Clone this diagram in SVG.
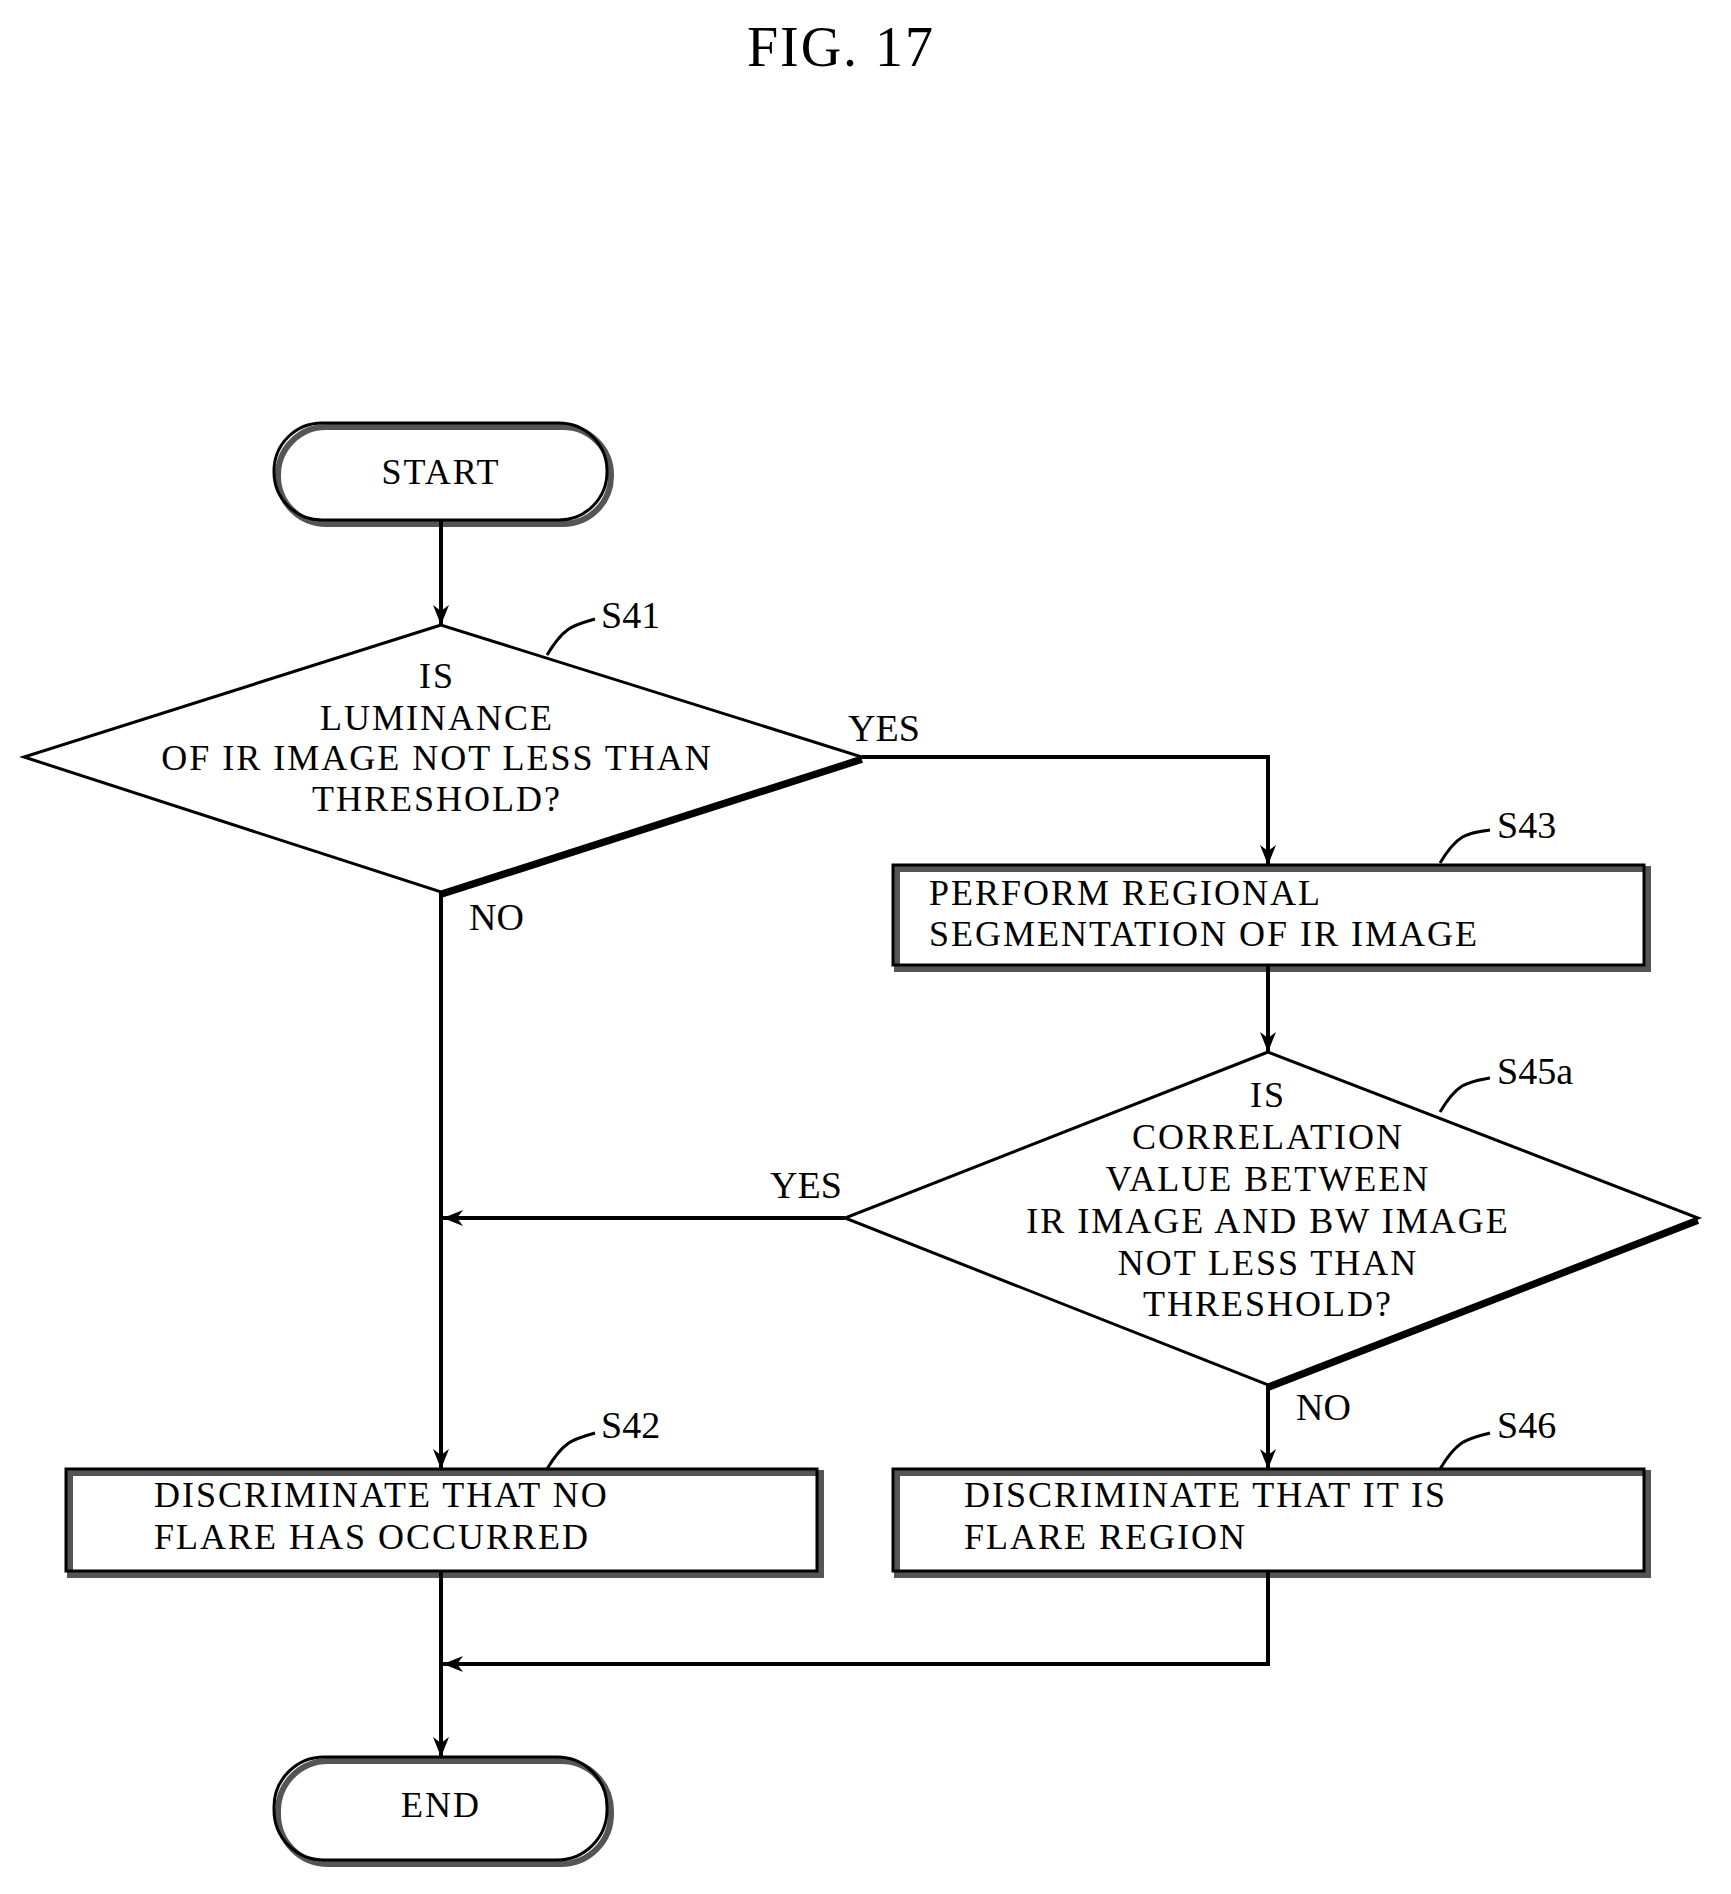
<svg xmlns="http://www.w3.org/2000/svg" width="1731" height="1894" viewBox="0 0 1731 1894">
<style>
.t{font-family:"Liberation Serif",serif;font-size:36px;letter-spacing:2px;fill:#000}
.c{text-anchor:middle}
.l{font-family:"Liberation Serif",serif;font-size:38px}
.s{fill:none;stroke:#000;stroke-width:3}
.sh{fill:none;stroke:#555;stroke-width:6}
.ln{fill:none;stroke:#000;stroke-width:4}
</style>
<defs>
<marker id="a" viewBox="0 0 20 20" refX="20" refY="10" markerWidth="20" markerHeight="20" markerUnits="userSpaceOnUse" orient="auto">
<path d="M0,2 L20,10 L0,18 L6,10 Z" fill="#000"/>
</marker>
</defs>
<rect width="1731" height="1894" fill="#fff"/>
<text x="841" y="66" class="t c" style="font-size:56px">FIG. 17</text>
<g id="start">
<rect x="278" y="427" width="333" height="97" rx="48" class="sh"/>
<rect x="274" y="423" width="333" height="97" rx="48" class="s" fill="#fff"/>
<text x="441" y="484" class="t c">START</text>
</g>
<g id="s41">
<polygon points="441,625 24,757 441,892 862,757" class="s" fill="#fff"/>
<polyline points="862,760 441,895" style="fill:none;stroke:#000;stroke-width:6"/>
<text class="t c"><tspan x="437" y="688">IS</tspan><tspan x="437" y="730">LUMINANCE</tspan><tspan x="437" y="770">OF IR IMAGE NOT LESS THAN</tspan><tspan x="437" y="811">THRESHOLD?</tspan></text>
<path class="s" d="M547,655 C565,625 575,625 595,619"/>
<text x="601" y="628" class="l">S41</text>
</g>
<g id="s43">
<rect x="897" y="869" width="751" height="100" class="sh"/>
<rect x="893" y="865" width="751" height="100" class="s" fill="#fff"/>
<text class="t"><tspan x="929" y="905">PERFORM REGIONAL</tspan><tspan x="929" y="946">SEGMENTATION OF IR IMAGE</tspan></text>
<path class="s" d="M1440,863 C1458,833 1468,833 1490,830"/>
<text x="1497" y="838" class="l">S43</text>
</g>
<g id="s45a">
<polygon points="1268,1052 845,1218 1268,1385 1698,1218" class="s" fill="#fff"/>
<polyline points="1698,1221 1268,1388" style="fill:none;stroke:#000;stroke-width:6"/>
<text class="t c"><tspan x="1268" y="1107">IS</tspan><tspan x="1268" y="1149">CORRELATION</tspan><tspan x="1268" y="1191">VALUE BETWEEN</tspan><tspan x="1268" y="1233">IR IMAGE AND BW IMAGE</tspan><tspan x="1268" y="1275">NOT LESS THAN</tspan><tspan x="1268" y="1316">THRESHOLD?</tspan></text>
<path class="s" d="M1440,1112 C1458,1082 1468,1082 1490,1078"/>
<text x="1497" y="1084" class="l">S45a</text>
</g>
<g id="s42">
<rect x="70" y="1473" width="751" height="102" class="sh"/>
<rect x="66" y="1469" width="751" height="102" class="s" fill="#fff"/>
<text class="t"><tspan x="154" y="1507">DISCRIMINATE THAT NO</tspan><tspan x="154" y="1549">FLARE HAS OCCURRED</tspan></text>
<path class="s" d="M547,1469 C565,1439 575,1439 595,1433"/>
<text x="601" y="1438" class="l">S42</text>
</g>
<g id="s46">
<rect x="897" y="1473" width="751" height="102" class="sh"/>
<rect x="893" y="1469" width="751" height="102" class="s" fill="#fff"/>
<text class="t"><tspan x="964" y="1507">DISCRIMINATE THAT IT IS</tspan><tspan x="964" y="1549">FLARE REGION</tspan></text>
<path class="s" d="M1440,1469 C1458,1439 1468,1439 1490,1433"/>
<text x="1497" y="1438" class="l">S46</text>
</g>
<g id="end">
<rect x="278" y="1761" width="333" height="103" rx="50" class="sh"/>
<rect x="274" y="1757" width="333" height="103" rx="50" class="s" fill="#fff"/>
<text x="441" y="1817" class="t c">END</text>
</g>
<g id="connectors">
<line x1="441" y1="520" x2="441" y2="625" class="ln" marker-end="url(#a)"/>
<polyline points="862,757 1268,757 1268,865" class="ln" marker-end="url(#a)"/>
<line x1="1268" y1="965" x2="1268" y2="1052" class="ln" marker-end="url(#a)"/>
<line x1="845" y1="1218" x2="443" y2="1218" class="ln" marker-end="url(#a)"/>
<line x1="441" y1="892" x2="441" y2="1469" class="ln" marker-end="url(#a)"/>
<line x1="1268" y1="1385" x2="1268" y2="1469" class="ln" marker-end="url(#a)"/>
<polyline points="1268,1571 1268,1664 443,1664" class="ln" marker-end="url(#a)"/>
<line x1="441" y1="1571" x2="441" y2="1757" class="ln" marker-end="url(#a)"/>
<text x="848" y="741" class="l">YES</text>
<text x="469" y="930" class="l">NO</text>
<text x="770" y="1198" class="l">YES</text>
<text x="1296" y="1420" class="l">NO</text>
</g>
</svg>
